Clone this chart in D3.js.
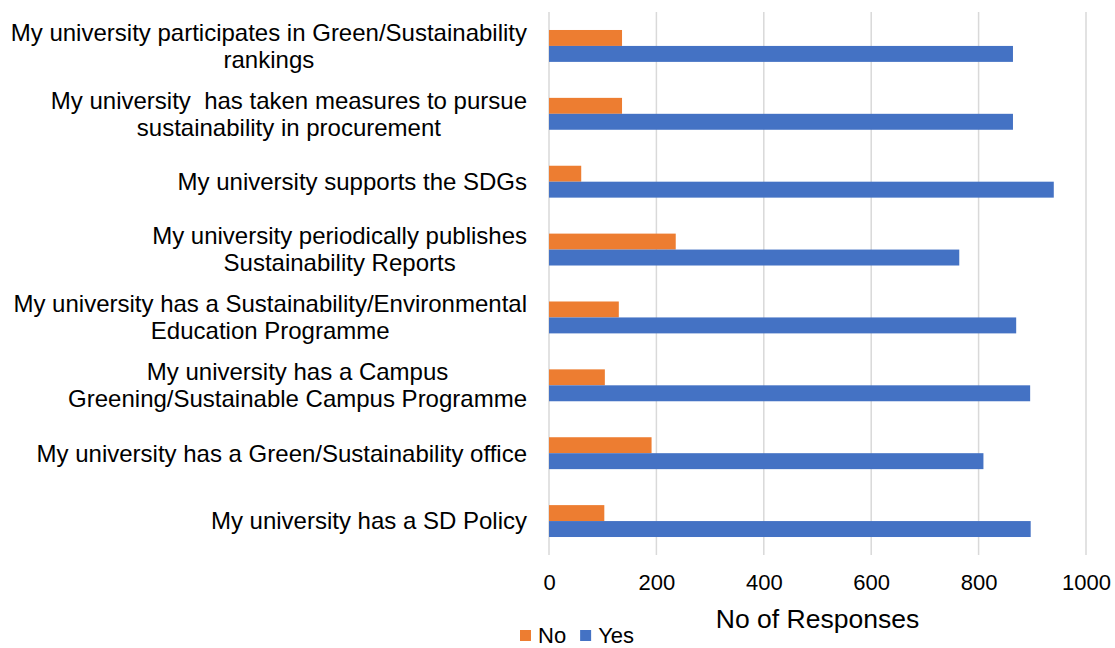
<!DOCTYPE html>
<html>
<head>
<meta charset="utf-8">
<script src="https://cdn.jsdelivr.net/npm/d3@7"></script>
<style>
  body { margin: 0; background: #fff; }
  text { font-family: "Liberation Sans", Arial, sans-serif; fill: #000; }
</style>
</head>
<body>
<div id="chart"></div>
<script>
// categories, top to bottom
var categories = [
  ["My university participates in Green/Sustainability", "rankings"],
  ["My university  has taken measures to pursue", "sustainability in procurement"],
  ["My university supports the SDGs"],
  ["My university periodically publishes", "Sustainability Reports"],
  ["My university has a Sustainability/Environmental", "Education Programme"],
  ["My university has a Campus", "Greening/Sustainable Campus Programme"],
  ["My university has a Green/Sustainability office"],
  ["My university has a SD Policy"]
];
var noValues  = [136, 136, 60, 236, 130, 104, 191, 103];
var yesValues = [864, 864, 940, 764, 870, 896, 809, 897];
var seriesNames = ["No", "Yes"];
var xTicks = [0, 200, 400, 600, 800, 1000];

var colors = {No: "#ED7D31", Yes: "#4472C4"};

var W = 1115, H = 648;
var margin = {top: 12, right: 29, bottom: 93, left: 549},
    width = W - margin.left - margin.right,
    height = H - margin.top - margin.bottom;

var svg = d3.select("#chart").append("svg")
    .attr("width", W)
    .attr("height", H);

var g = svg.append("g")
    .attr("transform", "translate(" + margin.left + "," + margin.top + ")");

var data = categories.map(function(c, i) {
  return {idx: i, label: c, No: noValues[i], Yes: yesValues[i]};
});

// scales
var x = d3.scaleLinear().domain([0, 1000]).range([0, width]);
var y0 = d3.scaleBand().domain(d3.range(categories.length)).range([0, height]).paddingInner(0.53).paddingOuter(0.265);
var y1 = d3.scaleBand().domain(seriesNames).range([0, y0.bandwidth()]);

// gridlines
g.append("g")
    .selectAll("line")
    .data(xTicks)
    .enter().append("line")
    .attr("x1", function(d) { return x(d); })
    .attr("x2", function(d) { return x(d); })
    .attr("y1", 0)
    .attr("y2", height)
    .attr("stroke", "#D9D9D9")
    .attr("stroke-width", 1.5);

// bars
var groups = g.selectAll(".grp")
    .data(data)
    .enter().append("g")
    .attr("class", "grp")
    .attr("transform", function(d) { return "translate(0," + y0(d.idx) + ")"; });

groups.selectAll("rect")
    .data(function(d) { return seriesNames.map(function(k) { return {key: k, value: d[k]}; }); })
    .enter().append("rect")
    .attr("x", x(0))
    .attr("y", function(d) { return y1(d.key); })
    .attr("width", function(d) { return x(d.value) - x(0); })
    .attr("height", y1.bandwidth())
    .attr("fill", function(d) { return colors[d.key]; });

// x axis tick labels
var xAxis = g.append("g")
    .attr("transform", "translate(0," + height + ")")
    .call(d3.axisBottom(x).tickValues(xTicks).tickFormat(d3.format("d")).tickSize(0).tickPadding(19));
xAxis.select(".domain").remove();
xAxis.selectAll("text")
    .attr("font-size", "22px")
    .attr("font-family", "Liberation Sans, Arial, sans-serif")
    .attr("fill", "#000");

// axis title
g.append("text")
    .attr("x", width / 2)
    .attr("y", height + 73)
    .attr("text-anchor", "middle")
    .attr("font-size", "26.5px")
    .text("No of Responses");

// category labels: block right aligned, lines centred within block
var labelRight = -22;
var lineH = 27;
data.forEach(function(d) {
  var cy = y0(d.idx) + y0.bandwidth() / 2;
  var t = g.append("text")
      .attr("font-size", "24px")
      .style("white-space", "pre");
  var spans = d.label.map(function(line, j) {
    return t.append("tspan")
        .attr("y", cy + (j - (d.label.length - 1) / 2) * lineH)
        .attr("dy", "0.35em")
        .text(line);
  });
  var widths = spans.map(function(s) { return s.node().getComputedTextLength(); });
  var maxW = d3.max(widths);
  spans.forEach(function(s, j) {
    s.attr("x", labelRight - maxW / 2).attr("text-anchor", "middle");
  });
});

// legend
var legend = svg.append("g").attr("transform", "translate(520,635)");
var lx = 0;
seriesNames.forEach(function(k) {
  legend.append("rect")
      .attr("x", lx).attr("y", -5)
      .attr("width", 11).attr("height", 11)
      .attr("fill", colors[k]);
  var tt = legend.append("text")
      .attr("x", lx + 18).attr("y", 0)
      .attr("dy", "0.35em")
      .attr("font-size", "22px")
      .text(k);
  lx += 18 + tt.node().getComputedTextLength() + 14;
});
</script>
</body>
</html>
